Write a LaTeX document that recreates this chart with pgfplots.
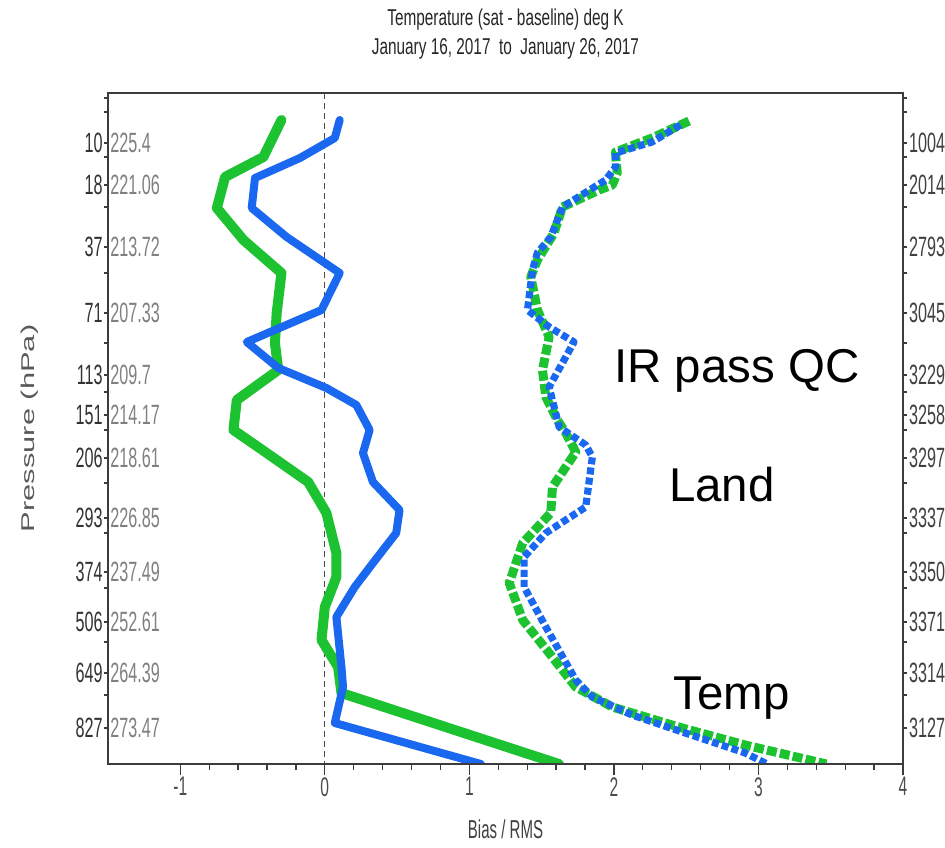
\documentclass[border=0pt]{standalone}
\usepackage{pgfplots}
\pgfplotsset{compat=1.18}
\usepackage{fontspec}
\setmainfont{Liberation Sans}
\newfontfamily\tickfont[FakeStretch=0.58]{Liberation Sans}
\newfontfamily\titlefont[FakeStretch=0.67]{Liberation Sans}
\definecolor{cgreen}{RGB}{28,194,48}
\definecolor{cblue}{RGB}{26,104,240}
\definecolor{axgray}{RGB}{60,60,60}
\pgfplotsset{base/.style={width=397.5bp,height=335.5bp,scale only axis,
  xmin=-1.5,xmax=4,ymin=93,ymax=764,y dir=reverse,at={(0,0)},anchor=south west,
  tick align=outside}}
\begin{document}
\begin{tikzpicture}
% main axis with data and left pressure labels
\begin{axis}[base,
  axis line style={axgray,line width=1bp},
  xtick=\empty,
  ytick pos=left,
  major tick length=2bp, minor tick length=2bp,
  tick style={axgray,line width=0.6bp},
  ytick={143,185,247,313,375,415,458,518,572,622,673,728},
  yticklabels={10,18,37,71,113,151,206,293,374,506,649,827},
  minor ytick={98,112,157,207,273,343,392,430,483,533,588,642,695},
  yticklabel style={font=\tickfont\fontsize{14}{15}\selectfont,text=black!80,inner sep=0.5bp},
]
\addplot[black!70,line width=0.5bp,densely dashed] coordinates {(0,93) (0,764)};
% Bias, green
\addplot[cgreen,line width=5bp,line join=round,line cap=round] coordinates {
(-0.30,120) (-0.425,157) (-0.69,177) (-0.747,208) (-0.563,240) (-0.30,273)
(-0.333,313) (-0.345,343) (-0.322,370) (-0.609,400) (-0.632,430) (-0.402,453)
(-0.115,482) (0.011,513) (0.080,553) (0.080,577) (0.0,607) (-0.023,640)
(0.092,667) (0.115,693) (1.62,764)};
% Bias, blue
\addplot[cblue,line width=4bp,line join=round,line cap=round] coordinates {
(0.103,120) (0.069,138) (-0.172,158) (-0.483,178) (-0.506,208) (-0.264,237)
(0.103,273) (-0.023,310) (-0.540,342) (-0.322,368) (0.011,388) (0.218,405)
(0.310,430) (0.264,453) (0.333,482) (0.517,510) (0.494,533) (0.333,563)
(0.207,587) (0.080,617) (0.115,667) (0.126,687) (0.069,723) (1.08,764)};
% RMS, green
\addplot[cgreen,line width=4.5bp,line join=round,dash pattern=on 5bp off 1.6bp] coordinates {
(2.520,121) (2.264,138) (2.011,152) (2.023,173) (1.989,185) (1.897,190)
(1.644,207) (1.586,233) (1.471,260) (1.425,277) (1.471,310) (1.552,337)
(1.506,370) (1.529,397) (1.609,420) (1.667,433) (1.736,452) (1.575,487)
(1.563,513) (1.369,543) (1.276,583) (1.369,620) (1.552,653) (1.736,687)
(1.989,707) (2.448,727) (2.908,745) (3.47,764)};
% RMS, blue
\addplot[cblue,line width=3.6bp,line join=round,dash pattern=on 3.5bp off 1.6bp] coordinates {
(2.460,125) (2.264,142) (2.011,153) (2.011,167) (1.943,180) (1.644,207)
(1.563,237) (1.470,253) (1.437,270) (1.402,310) (1.552,327) (1.724,342)
(1.552,387) (1.621,427) (1.805,445) (1.851,457) (1.805,507) (1.529,533)
(1.379,557) (1.379,587) (1.529,627) (1.736,680) (1.851,697) (2.126,715)
(2.494,733) (2.908,753) (3.06,764)};
\node[anchor=base west,inner sep=0pt,font=\fontsize{23.8}{28}\selectfont] at (axis cs:2.0,382) {IR pass QC};
\node[anchor=base west,inner sep=0pt,font=\fontsize{23.8}{28}\selectfont] at (axis cs:2.38,501.7) {Land};
\node[anchor=base west,inner sep=0pt,font=\fontsize{23.8}{28}\selectfont] at (axis cs:2.41,709.3) {Temp};
\coordinate (TL) at (axis cs:-1.5,93);
\coordinate (BR) at (axis cs:4,764);
\coordinate (TC) at (axis cs:1.25,93);
\coordinate (BC) at (axis cs:1.25,764);
\coordinate (LC) at (axis cs:-1.5,428.5);
\end{axis}
% x ticks
\begin{axis}[base,hide y axis,axis x line*=bottom,
  axis line style={axgray,line width=1bp},
  xtick={-1,0,1,2,3,4}, xticklabels={-1,0,1,2,3,4},
  minor x tick num=4,
  major tick length=5.5bp, minor tick length=3bp,
  tick style={axgray,line width=0.6bp},
  xticklabel style={font=\tickfont\fontsize{13.5}{15}\selectfont,text=black!70,inner sep=1bp},
]
\end{axis}
% temperature labels inside
\begin{axis}[base,hide x axis,axis line style={draw=none},
  ytick pos=left, major tick length=0pt, minor tick length=0pt,
  ytick={143,185,247,313,375,415,458,518,572,622,673,728},
  yticklabels={225.4,221.06,213.72,207.33,209.7,214.17,218.61,226.85,237.49,252.61,264.39,273.47},
  yticklabel style={anchor=west,font=\tickfont\fontsize{14}{15}\selectfont,text=black!50,inner sep=1bp},
]
\end{axis}
% right count labels
\begin{axis}[base,hide x axis,axis y line*=right,
  axis line style={axgray,line width=1bp},
  ytick pos=right, major tick length=2bp, minor tick length=2bp,
  tick style={axgray,line width=0.6bp},
  ytick={143,185,247,313,375,415,458,518,572,622,673,728},
  yticklabels={1004,2014,2793,3045,3229,3258,3297,3337,3350,3371,3314,3127},
  minor ytick={98,112,157,207,273,343,392,430,483,533,588,642,695},
  yticklabel style={font=\tickfont\fontsize{14}{15}\selectfont,text=black!75,inner sep=0.8bp},
]
\end{axis}
\node[anchor=base,font=\titlefont\fontsize{11.5}{13}\selectfont,text=black!85] at ([yshift=33.5bp]TC) {Temperature (sat - baseline) deg K};
\node[anchor=base,font=\titlefont\fontsize{11.5}{13}\selectfont,text=black!85] at ([yshift=19bp]TC) {January 16, 2017\ \ to\ \ January 26, 2017};
\node[anchor=base,font=\tickfont\fontsize{13}{15}\selectfont,text=black!75] at ([yshift=-37bp]BC) {Bias / RMS};
\node[rotate=90,text=black!65] at ([xshift=-39bp]LC) {\scalebox{1}[0.6]{\fontsize{15.5}{18}\selectfont Pressure (hPa)}};
\pgfresetboundingbox
\path ([shift={(-54bp,46.5bp)}]TL) rectangle ([shift={(21bp,-42bp)}]BR);
\end{tikzpicture}
\end{document}
